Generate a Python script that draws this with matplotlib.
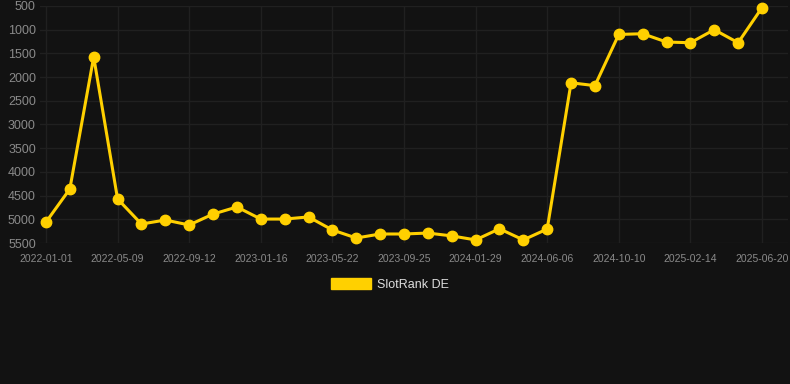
import matplotlib
matplotlib.use("Agg")
import matplotlib.pyplot as plt
from matplotlib.patches import Patch

plt.rcParams['font.family'] = ['Liberation Sans', 'DejaVu Sans']

tick_dates = ["2022-01-01", "2022-05-09", "2022-09-12", "2023-01-16", "2023-05-22",
              "2023-09-25", "2024-01-29", "2024-06-06", "2024-10-10", "2025-02-14",
              "2025-06-20"]
ranks = [5060, 4360, 1575, 4570, 5100, 5015, 5120, 4890, 4740, 4995,
         4995, 4950, 5225, 5395, 5310, 5310, 5290, 5350, 5435, 5200,
         5435, 5205, 2120, 2180, 1100, 1085, 1260, 1275, 1000, 1275,
         535]
y_ticks = [500, 1000, 1500, 2000, 2500, 3000, 3500, 4000, 4500, 5000, 5500]
series_name = "SlotRank DE"

bg = "#121212"
gold = "#FFD000"

fig = plt.figure(figsize=(7.9, 3.84), dpi=100, facecolor=bg)
ax = fig.add_axes([40/790, 1-243/384, 748/790, 237/384], facecolor=bg)

x = list(range(len(ranks)))
ax.plot(x, ranks, color=gold, lw=2.2, marker='o', markersize=7.5,
        markerfacecolor=gold, markeredgecolor=gold, solid_joinstyle='miter',
        zorder=3, clip_on=False)

ax.set_ylim(5500, 500)
ax.set_yticks(y_ticks)
ax.set_yticklabels([str(v) for v in y_ticks])
ax.set_xlim(-0.25, 31.09)
ax.set_xticks(x[::3])
ax.set_xticklabels(tick_dates)

for s in ax.spines.values():
    s.set_visible(False)
ax.grid(True, color="#202020", lw=1.0)
ax.tick_params(axis='both', which='both', length=0)
ax.tick_params(axis='y', pad=3, labelsize=9, labelcolor="#8a8a8a")
ax.tick_params(axis='x', pad=8, labelsize=7.5, labelcolor="#8a8a8a")

handle = Patch(facecolor=gold, edgecolor=gold)
leg = fig.legend([handle], [series_name], loc='center', bbox_to_anchor=(0.494, 0.26),
                 frameon=False, fontsize=9, handlelength=3.2, handleheight=0.95,
                 handletextpad=0.5, labelcolor="#dddddd")

fig.savefig("out.png", dpi=100, facecolor=bg)
